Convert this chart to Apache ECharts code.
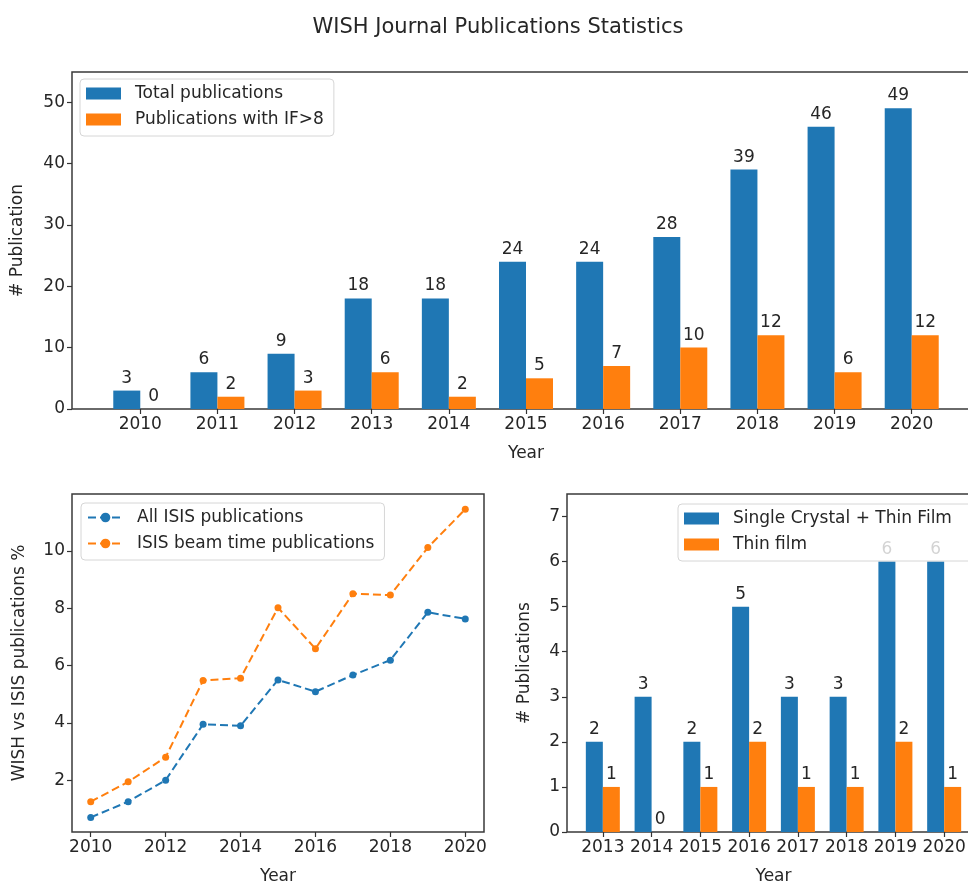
<!DOCTYPE html>
<html>
<head>
<meta charset="utf-8">
<title>WISH Journal Publications Statistics</title>
<script src="https://cdn.jsdelivr.net/npm/echarts@6/dist/echarts.min.js"></script>
<style>
    html, body { margin: 0; padding: 0; background: #fff; }
    #chart { width: 968px; height: 883px; }
</style>
</head>
<body>
<div id="chart"></div>
<script>
// top panel: publications per year
const years = [2010, 2011, 2012, 2013, 2014, 2015, 2016, 2017, 2018, 2019, 2020];
const totalPubs = [3, 6, 9, 18, 18, 24, 24, 28, 39, 46, 49];
const highIfPubs = [0, 2, 3, 6, 2, 5, 7, 10, 12, 6, 12];
const topYTicks = [0, 10, 20, 30, 40, 50];

// bottom left: WISH share of ISIS publications (%)
const shareYears = [2010, 2011, 2012, 2013, 2014, 2015, 2016, 2017, 2018, 2019, 2020];
const allIsisShare = [0.70, 1.25, 2.00, 3.95, 3.90, 5.50, 5.09, 5.67, 6.19, 7.86, 7.63];
const beamTimeShare = [1.25, 1.94, 2.80, 5.48, 5.56, 8.02, 6.59, 8.51, 8.46, 10.12, 11.46];
const shareXTicks = [2010, 2012, 2014, 2016, 2018, 2020];
const shareYTicks = [2, 4, 6, 8, 10];

// bottom right: single crystal / thin film
const filmYears = [2013, 2014, 2015, 2016, 2017, 2018, 2019, 2020];
const crystalFilm = [2, 3, 2, 5, 3, 3, 6, 6];
const thinFilm = [1, 0, 1, 2, 1, 1, 2, 1];
const filmYTicks = [0, 1, 2, 3, 4, 5, 6, 7];

const BLUE = '#1f77b4';
const ORANGE = '#ff7f0e';
const FONT = 'DejaVu Sans';
const TXT = '#262626';
const FS = 17;

function pairs(xs, ys) {
    return xs.map((x, i) => [x, ys[i]]);
}

function xAxisFor(gridIndex, min, max, ticks) {
    return {
        type: 'value',
        gridIndex: gridIndex,
        min: min,
        max: max,
        name: 'Year',
        nameLocation: 'middle',
        nameGap: 36,
        nameTextStyle: { fontFamily: FONT, fontSize: FS, color: TXT },
        axisLine: { show: false },
        splitLine: { show: false },
        axisTick: { show: true, length: 5, customValues: ticks, lineStyle: { color: '#333', width: 1.2 } },
        axisLabel: { customValues: ticks, fontFamily: FONT, fontSize: FS, color: TXT, margin: 7,
            formatter: v => String(v) }
    };
}

function yAxisFor(gridIndex, min, max, ticks, name, gap) {
    return {
        type: 'value',
        gridIndex: gridIndex,
        min: min,
        max: max,
        name: name,
        nameLocation: 'middle',
        nameGap: gap,
        nameRotate: 90,
        nameTextStyle: { fontFamily: FONT, fontSize: FS, color: TXT },
        axisLine: { show: false },
        splitLine: { show: false },
        axisTick: { show: true, length: 5, customValues: ticks, lineStyle: { color: '#333', width: 1.2 } },
        axisLabel: { customValues: ticks, fontFamily: FONT, fontSize: FS, color: TXT, margin: 7,
            formatter: v => String(v) }
    };
}

function barSeries(name, xs, ys, color, axisIdx, width) {
    return {
        name: name,
        type: 'bar',
        xAxisIndex: axisIdx,
        yAxisIndex: axisIdx,
        data: pairs(xs, ys),
        barWidth: width,
        barGap: '0%',
        itemStyle: { color: color },
        label: {
            show: true,
            position: 'top',
            distance: 4,
            fontFamily: FONT,
            fontSize: FS,
            color: TXT,
            formatter: p => String(p.value[1])
        }
    };
}

function lineSeries(name, xs, ys, color) {
    return {
        name: name,
        type: 'line',
        xAxisIndex: 1,
        yAxisIndex: 1,
        data: pairs(xs, ys),
        symbol: 'circle',
        symbolSize: 7,
        itemStyle: { color: color },
        lineStyle: { color: color, width: 2, type: [8, 4] }
    };
}

const legendBase = {
    orient: 'vertical',
    itemWidth: 35,
    itemHeight: 12,
    itemGap: 9,
    padding: [6, 10, 8, 6],
    backgroundColor: 'rgba(255,255,255,0.8)',
    borderColor: '#d6d6d6',
    borderWidth: 1,
    borderRadius: 4,
    textStyle: { fontFamily: FONT, fontSize: FS, color: TXT, padding: [0, 0, 0, 9] }
};

const frame = {
    show: true,
    outerBoundsMode: 'none',
    borderColor: '#3a3a3a',
    borderWidth: 1.5,
    backgroundColor: 'transparent'
};

const chart = echarts.init(document.getElementById('chart'), null, { renderer: 'canvas' });

chart.setOption({
    animation: false,
    backgroundColor: '#fff',
    title: {
        text: 'WISH Journal Publications Statistics',
        left: 493,
        textAlign: 'center',
        top: 12,
        textStyle: { fontFamily: FONT, fontSize: 21, fontWeight: 'normal', color: TXT }
    },
    legend: [
        Object.assign({}, legendBase, { left: 80, top: 79, icon: 'rect',
            data: ['Total publications', 'Publications with IF>8'] }),
        Object.assign({}, legendBase, { left: 81, top: 503,
            data: ['All ISIS publications', 'ISIS beam time publications'] }),
        Object.assign({}, legendBase, { left: 678, top: 504, icon: 'rect', padding: [6, 30, 8, 6],
            data: ['Single Crystal + Thin Film', 'Thin film'] })
    ],
    grid: [
        Object.assign({ left: 72, top: 72, width: 908, height: 337 }, frame),
        Object.assign({ left: 72, top: 494, width: 412, height: 338 }, frame),
        Object.assign({ left: 567, top: 494, width: 413, height: 338 }, frame)
    ],
    xAxis: [
        xAxisFor(0, 2009.115, 2020.885, years),
        xAxisFor(1, 2009.5, 2020.5, shareXTicks),
        xAxisFor(2, 2012.265, 2020.735, filmYears)
    ],
    yAxis: [
        yAxisFor(0, 0, 54.9, topYTicks, '# Publication', 46),
        yAxisFor(1, 0.19, 11.99, shareYTicks, 'WISH vs ISIS publications %', 44),
        yAxisFor(2, 0, 7.5, filmYTicks, '# Publications', 34)
    ],
    series: [
        barSeries('Total publications', years, totalPubs, BLUE, 0, 27),
        barSeries('Publications with IF>8', years, highIfPubs, ORANGE, 0, 27),
        lineSeries('All ISIS publications', shareYears, allIsisShare, BLUE),
        lineSeries('ISIS beam time publications', shareYears, beamTimeShare, ORANGE),
        barSeries('Single Crystal + Thin Film', filmYears, crystalFilm, BLUE, 2, 17),
        barSeries('Thin film', filmYears, thinFilm, ORANGE, 2, 17)
    ]
});
</script>
</body>
</html>
